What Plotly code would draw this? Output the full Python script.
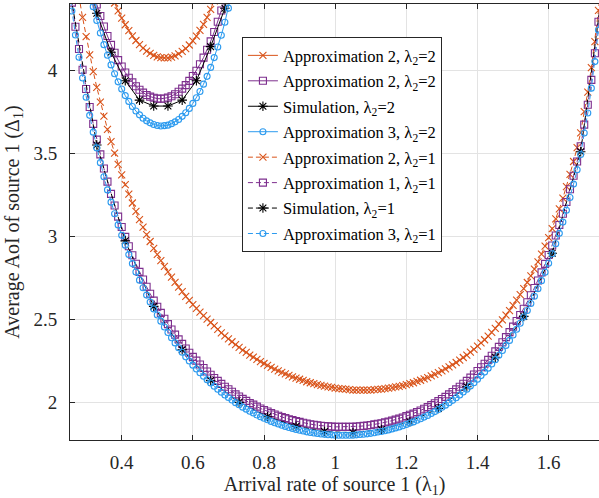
import plotly.graph_objects as go

# ---------------- data: lambda2 = 1 curves ----------------
lam1_a = [0.25, 0.26, 0.27, 0.28, 0.29, 0.30, 0.31, 0.32, 0.33, 0.34,
          0.35, 0.36, 0.37, 0.38, 0.39, 0.40, 0.41, 0.42, 0.43, 0.44,
          0.45, 0.46, 0.47, 0.48, 0.49, 0.50, 0.51, 0.52, 0.53, 0.54,
          0.55, 0.56, 0.57, 0.58, 0.59, 0.60, 0.61, 0.62, 0.63, 0.64,
          0.65, 0.66, 0.67, 0.68, 0.69, 0.70, 0.71, 0.72, 0.73, 0.74,
          0.75, 0.76, 0.77, 0.78, 0.79, 0.80, 0.81, 0.82, 0.83, 0.84,
          0.85, 0.86, 0.87, 0.88, 0.89, 0.90, 0.91, 0.92, 0.93, 0.94,
          0.95, 0.96, 0.97, 0.98, 0.99, 1.00, 1.01, 1.02, 1.03, 1.04,
          1.05, 1.06, 1.07, 1.08, 1.09, 1.10, 1.11, 1.12, 1.13, 1.14,
          1.15, 1.16, 1.17, 1.18, 1.19, 1.20, 1.21, 1.22, 1.23, 1.24,
          1.25, 1.26, 1.27, 1.28, 1.29, 1.30, 1.31, 1.32, 1.33, 1.34,
          1.35, 1.36, 1.37, 1.38, 1.39, 1.40, 1.41, 1.42, 1.43, 1.44,
          1.45, 1.46, 1.47, 1.48, 1.49, 1.50, 1.51, 1.52, 1.53, 1.54,
          1.55, 1.56, 1.57, 1.58, 1.59, 1.60, 1.61, 1.62, 1.63, 1.64,
          1.65, 1.66, 1.67, 1.68, 1.69, 1.70, 1.71, 1.72, 1.73, 1.74,
          1.75]

approx2_l1 = [4.882, 4.725, 4.580, 4.446, 4.321, 4.205, 4.096, 3.995, 3.900, 3.811,
              3.726, 3.647, 3.573, 3.503, 3.436, 3.373, 3.314, 3.257, 3.203, 3.152,
              3.103, 3.057, 3.013, 2.971, 2.930, 2.893, 2.856, 2.821, 2.788, 2.756,
              2.725, 2.696, 2.669, 2.641, 2.616, 2.591, 2.568, 2.545, 2.524, 2.503,
              2.483, 2.462, 2.441, 2.421, 2.402, 2.384, 2.367, 2.349, 2.333, 2.317,
              2.303, 2.287, 2.275, 2.261, 2.247, 2.236, 2.225, 2.212, 2.202, 2.192,
              2.182, 2.173, 2.164, 2.156, 2.148, 2.141, 2.134, 2.126, 2.120, 2.115,
              2.109, 2.104, 2.100, 2.095, 2.092, 2.088, 2.085, 2.083, 2.081, 2.078,
              2.076, 2.076, 2.075, 2.075, 2.075, 2.076, 2.078, 2.080, 2.081, 2.084,
              2.087, 2.091, 2.095, 2.098, 2.103, 2.109, 2.115, 2.120, 2.128, 2.135,
              2.143, 2.151, 2.161, 2.170, 2.181, 2.192, 2.203, 2.216, 2.228, 2.242,
              2.256, 2.272, 2.286, 2.304, 2.321, 2.340, 2.360, 2.379, 2.401, 2.424,
              2.448, 2.473, 2.499, 2.528, 2.555, 2.586, 2.618, 2.651, 2.687, 2.724,
              2.764, 2.805, 2.848, 2.895, 2.943, 2.995, 3.049, 3.107, 3.167, 3.232,
              3.301, 3.375, 3.453, 3.537, 3.626, 3.753, 3.871, 4.018, 4.175, 4.363,
              4.570]

approx1_l1 = [4.567, 4.410, 4.265, 4.131, 4.006, 3.890, 3.781, 3.680, 3.585, 3.496,
              3.411, 3.332, 3.258, 3.188, 3.121, 3.058, 2.999, 2.942, 2.888, 2.837,
              2.788, 2.742, 2.698, 2.656, 2.615, 2.578, 2.541, 2.506, 2.473, 2.441,
              2.410, 2.381, 2.354, 2.326, 2.301, 2.276, 2.253, 2.230, 2.209, 2.188,
              2.168, 2.149, 2.131, 2.113, 2.096, 2.081, 2.066, 2.050, 2.037, 2.023,
              2.011, 1.998, 1.988, 1.976, 1.965, 1.956, 1.947, 1.937, 1.929, 1.921,
              1.914, 1.907, 1.900, 1.895, 1.889, 1.884, 1.879, 1.874, 1.870, 1.867,
              1.864, 1.861, 1.859, 1.857, 1.856, 1.854, 1.854, 1.854, 1.854, 1.854,
              1.854, 1.856, 1.858, 1.860, 1.862, 1.865, 1.869, 1.873, 1.876, 1.881,
              1.886, 1.892, 1.898, 1.904, 1.911, 1.919, 1.927, 1.934, 1.944, 1.953,
              1.963, 1.973, 1.985, 1.996, 2.009, 2.022, 2.035, 2.050, 2.064, 2.080,
              2.096, 2.114, 2.131, 2.151, 2.170, 2.191, 2.213, 2.234, 2.258, 2.283,
              2.309, 2.336, 2.364, 2.395, 2.425, 2.458, 2.492, 2.528, 2.566, 2.605,
              2.647, 2.691, 2.736, 2.785, 2.836, 2.890, 2.947, 3.007, 3.070, 3.138,
              3.209, 3.286, 3.367, 3.453, 3.545, 3.675, 3.795, 3.945, 4.105, 4.295,
              4.505]

approx3_l1 = [4.517, 4.360, 4.215, 4.081, 3.956, 3.840, 3.731, 3.630, 3.535, 3.446,
              3.361, 3.282, 3.208, 3.138, 3.071, 3.008, 2.949, 2.892, 2.838, 2.787,
              2.738, 2.692, 2.648, 2.606, 2.565, 2.528, 2.491, 2.456, 2.423, 2.391,
              2.360, 2.331, 2.304, 2.276, 2.251, 2.226, 2.203, 2.180, 2.159, 2.138,
              2.118, 2.099, 2.081, 2.063, 2.046, 2.031, 2.016, 2.000, 1.987, 1.973,
              1.961, 1.948, 1.938, 1.926, 1.915, 1.906, 1.897, 1.887, 1.879, 1.871,
              1.864, 1.857, 1.850, 1.845, 1.839, 1.834, 1.829, 1.824, 1.820, 1.817,
              1.814, 1.811, 1.809, 1.807, 1.806, 1.804, 1.804, 1.804, 1.804, 1.804,
              1.804, 1.806, 1.808, 1.810, 1.812, 1.815, 1.819, 1.823, 1.826, 1.831,
              1.836, 1.842, 1.848, 1.854, 1.861, 1.869, 1.877, 1.884, 1.894, 1.903,
              1.913, 1.923, 1.935, 1.946, 1.959, 1.972, 1.985, 2.000, 2.014, 2.030,
              2.046, 2.064, 2.081, 2.101, 2.120, 2.141, 2.163, 2.184, 2.208, 2.233,
              2.259, 2.286, 2.314, 2.345, 2.375, 2.408, 2.442, 2.478, 2.516, 2.555,
              2.597, 2.641, 2.686, 2.735, 2.786, 2.840, 2.897, 2.957, 3.020, 3.088,
              3.159, 3.236, 3.317, 3.403, 3.495, 3.625, 3.745, 3.895, 4.055, 4.245,
              4.455]

sim_x_l1 = [0.25, 0.33, 0.41, 0.49, 0.57, 0.65, 0.73, 0.81, 0.89, 0.97,
            1.05, 1.13, 1.21, 1.29, 1.37, 1.45, 1.53, 1.61, 1.69, 1.75]
sim_l1 = [4.532, 3.552, 2.975, 2.580, 2.319, 2.133, 2.002, 1.915, 1.858, 1.826,
          1.819, 1.838, 1.885, 1.965, 2.096, 2.274, 2.520, 2.900, 3.512, 4.470]

# ---------------- data: lambda2 = 2 curves ----------------
lam1_b = [0.30, 0.31, 0.32, 0.33, 0.34, 0.35, 0.36, 0.37, 0.38, 0.39,
          0.40, 0.41, 0.42, 0.43, 0.44, 0.45, 0.46, 0.47, 0.48, 0.49,
          0.50, 0.51, 0.52, 0.53, 0.54, 0.55, 0.56, 0.57, 0.58, 0.59,
          0.60, 0.61, 0.62, 0.63, 0.64, 0.65, 0.66, 0.67, 0.68, 0.69,
          0.70, 0.71, 0.72]

approx2_l2 = [4.980, 4.885, 4.799, 4.719, 4.646, 4.578, 4.517, 4.460, 4.408, 4.360,
              4.317, 4.277, 4.242, 4.210, 4.182, 4.157, 4.136, 4.118, 4.104, 4.093,
              4.084, 4.079, 4.077, 4.078, 4.082, 4.090, 4.101, 4.116, 4.133, 4.155,
              4.180, 4.208, 4.243, 4.279, 4.322, 4.369, 4.421, 4.479, 4.543, 4.613,
              4.690, 4.774, 4.867]

approx2b_l2 = [4.648, 4.557, 4.475, 4.399, 4.330, 4.266, 4.209, 4.156, 4.108, 4.064,
               4.025, 3.989, 3.958, 3.930, 3.906, 3.885, 3.868, 3.854, 3.844, 3.837,
               3.832, 3.831, 3.833, 3.838, 3.846, 3.858, 3.873, 3.892, 3.913, 3.939,
               3.968, 4.000, 4.039, 4.079, 4.126, 4.177, 4.233, 4.295, 4.363, 4.437,
               4.518, 4.606, 4.703]

approx3_l2 = [4.575, 4.477, 4.386, 4.303, 4.227, 4.157, 4.093, 4.035, 3.982, 3.933,
              3.890, 3.850, 3.815, 3.784, 3.757, 3.734, 3.714, 3.698, 3.686, 3.676,
              3.670, 3.667, 3.669, 3.672, 3.681, 3.692, 3.706, 3.725, 3.747, 3.773,
              3.803, 3.837, 3.875, 3.919, 3.966, 4.020, 4.079, 4.143, 4.214, 4.292,
              4.377, 4.470, 4.573]

sim_x_l2 = [0.29, 0.33, 0.37, 0.41, 0.45, 0.49, 0.53, 0.57, 0.61, 0.65, 0.69, 0.73]
sim_l2 = [4.695, 4.346, 4.111, 3.940, 3.823, 3.787, 3.787, 3.823, 3.940, 4.145, 4.376, 4.760]

x_ticks = [0.4, 0.6, 0.8, 1.0, 1.2, 1.4, 1.6]
x_ticktext = ["0.4", "0.6", "0.8", "1", "1.2", "1.4", "1.6"]
y_ticks = [2, 2.5, 3, 3.5, 4]
y_ticktext = ["2", "2.5", "3", "3.5", "4"]

ORANGE = "#D95319"
PURPLE = "#7E2F8E"
BLACK = "#000000"
BLUE = "#2D9BEF"
SERIF = "Liberation Serif, Times New Roman, serif"

fig = go.Figure()


def add(x, y, name, color, symbol, size, dash, group):
    fig.add_trace(go.Scatter(
        x=x, y=y, name=name, mode="lines+markers", legendgroup=group,
        line=dict(color=color, width=1, dash=dash),
        marker=dict(symbol=symbol, size=size, color=color,
                    line=dict(color=color, width=1.1)),
    ))


add(lam1_b, approx2_l2, "Approximation 2, λ<sub>2</sub>=2", ORANGE, "x-thin", 7, "solid", "g1")
add(lam1_b, approx2b_l2, "Approximation 2, λ<sub>2</sub>=2", PURPLE, "square-open", 7, "solid", "g2")
add(sim_x_l2, sim_l2, "Simulation, λ<sub>2</sub>=2", BLACK, "asterisk-open", 8, "solid", "g3")
add(lam1_b, approx3_l2, "Approximation 3, λ<sub>2</sub>=2", BLUE, "circle-open", 6, "solid", "g4")
add(lam1_a, approx2_l1, "Approximation 2, λ<sub>2</sub>=1", ORANGE, "x-thin", 7, "5px,3px", "g5")
add(lam1_a, approx1_l1, "Approximation 1, λ<sub>2</sub>=1", PURPLE, "square-open", 7, "5px,3px", "g6")
add(sim_x_l1, sim_l1, "Simulation, λ<sub>2</sub>=1", BLACK, "asterisk-open", 8, "5px,3px", "g7")
add(lam1_a, approx3_l1, "Approximation 3, λ<sub>2</sub>=1", BLUE, "circle-open", 6, "5px,3px", "g8")

AX = "#262626"
fig.update_layout(
    width=599, height=498,
    margin=dict(l=70, r=0, t=4, b=58),
    plot_bgcolor="white", paper_bgcolor="white",
    font=dict(family=SERIF, size=19, color=AX),
    legend=dict(x=0.325, y=0.924, xanchor="left", yanchor="top",
                bgcolor="white", bordercolor=AX, borderwidth=1,
                font=dict(family=SERIF, size=16.5, color="#000000"),
                tracegroupgap=1, itemwidth=30),
)
fig.update_xaxes(
    range=[0.2547, 1.7415], tickvals=x_ticks, ticktext=x_ticktext,
    tickfont=dict(family=SERIF, size=19, color=AX),
    ticks="inside", ticklen=5, tickcolor=AX, showline=True, linecolor=AX,
    linewidth=1, mirror="ticks", showgrid=True, gridcolor="#e3e3e3",
    gridwidth=1, zeroline=False, ticklabelstandoff=5,
    title=dict(text="Arrival rate of source 1 (λ<sub>1</sub>)", standoff=4,
               font=dict(family=SERIF, size=20, color=AX)),
)
fig.update_yaxes(
    range=[1.775, 4.402], tickvals=y_ticks, ticktext=y_ticktext,
    tickfont=dict(family=SERIF, size=19, color=AX),
    ticks="inside", ticklen=5, tickcolor=AX, showline=True, linecolor=AX,
    linewidth=1, mirror=False, showgrid=True, gridcolor="#e3e3e3",
    gridwidth=1, zeroline=False, ticklabelstandoff=8,
    title=dict(text="Average AoI of source 1 (Δ<sub>1</sub>)", standoff=8,
               font=dict(family=SERIF, size=20, color=AX)),
)

fig.write_html("out.html", config={"displayModeBar": False},
               post_script="document.body.style.margin='0';document.body.style.padding='0';")
